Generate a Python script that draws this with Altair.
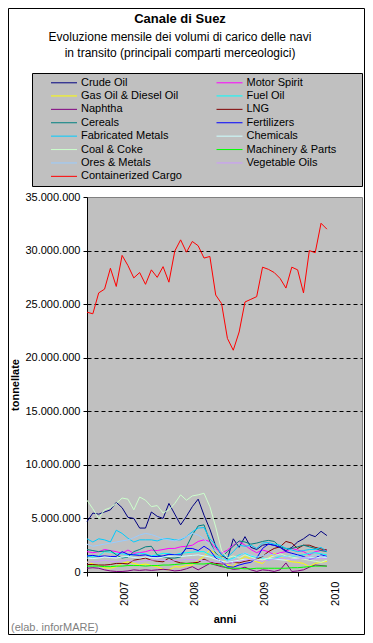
import altair as alt
import pandas as pd

FONT = "Liberation Sans"

# month index 0 = Jan 2007 ... 41 = Jun 2010 (axis spans 48 months, 2007-2010)
YEARS = [2007, 2008, 2009, 2010]
YEAR_TICKS = [0, 12, 24, 36]
LABEL_SHIFT = 6.4  # year label sits inside its year band

SERIES = [
    "Crude Oil", "Motor Spirit",
    "Gas Oil & Diesel Oil", "Fuel Oil",
    "Naphtha", "LNG",
    "Cereals", "Fertilizers",
    "Fabricated Metals", "Chemicals",
    "Coal & Coke", "Machinery & Parts",
    "Ores & Metals", "Vegetable Oils",
    "Containerized Cargo",
]
COLORS = [
    "#000080", "#FF00FF",
    "#FFFF00", "#00FFFF",
    "#800080", "#800000",
    "#008080", "#0000FF",
    "#00CCFF", "#CCFFFF",
    "#CCFFCC", "#00FF00",
    "#99CCFF", "#CC99FF",
    "#FF0000",
]

# values in millions of tonnes
crude_oil = [4.7, 5.5, 5.4, 5.6, 5.8, 6.5, 6.0, 5.1, 5.0, 4.1, 4.1, 5.6, 5.2, 5.0, 6.4, 5.4, 4.4, 5.2, 6.1, 6.8, 5.3,
             4.0, 2.4, 1.6, 1.2, 3.1, 2.3, 3.3, 2.3, 2.1, 2.5, 2.6, 2.5, 2.3, 2.0, 2.3, 2.8, 3.1, 3.5, 3.3, 3.8, 3.4]
motor_spirit = [1.9, 1.8, 1.9, 2.1, 2.0, 1.9, 1.75, 2.05, 1.75, 1.8, 1.9, 2.05, 2.0, 2.1, 2.2, 2.2, 2.35, 2.4, 2.5, 2.85,
                3.0, 2.85, 2.2, 1.75, 2.05, 2.5, 2.85, 2.5, 2.1, 1.8, 2.05, 1.9, 1.6, 1.8, 1.9, 2.2, 2.05, 1.9, 1.6, 1.9,
                2.0, 2.05]
gas_oil = [0.95, 0.75, 0.6, 0.4, 0.35, 0.5, 0.8, 0.95, 0.8, 0.65, 0.75, 0.6, 0.5, 0.25, 0.2, 0.5, 0.45, 0.6, 0.65, 1.1,
           1.45, 2.05, 1.75, 1.45, 0.65, 0.5, 1.1, 1.45, 1.2, 0.95, 0.8, 1.3, 1.75, 1.45, 1.1, 0.95, 0.9, 0.8, 0.5, 0.8,
           0.9, 1.0]
fuel_oil = [1.5, 1.4, 1.5, 1.9, 1.85, 1.7, 1.7, 1.6, 1.6, 1.75, 1.7, 1.5, 1.6, 1.75, 1.7, 1.6, 1.75, 1.8, 1.85, 1.9, 1.9,
            1.6, 1.45, 1.3, 1.1, 1.3, 1.6, 1.75, 1.45, 1.4, 1.3, 1.1, 1.25, 1.45, 1.5, 1.45, 1.55, 1.6, 1.75, 1.8, 1.7,
            1.6]
naphtha = [0.35, 0.4, 0.35, 0.2, 0.1, 0.05, 0.05, 0.1, 0.2, 0.15, 0.2, 0.15, 0.2, 0.25, 0.2, 0.1, 0.15, 0.3, 0.5, 0.2,
           0.5, 0.8, 0.65, 0.5, 0.4, 0.25, 0.3, 0.45, 0.2, 0.05, 0.2, 0.15, 0.05, 0.2, 0.85, 0.05, 0.1, 0.2, 0.45, 0.65,
           0.6, 0.55]
lng = [0.7, 0.7, 0.65, 0.65, 0.7, 0.8, 0.8, 0.75, 1.1, 1.2, 1.3, 1.1, 1.0, 0.95, 1.3, 1.0, 0.85, 0.8, 0.85, 0.9, 1.2,
       0.95, 0.8, 0.75, 0.8, 0.9, 0.85, 1.0, 1.1, 1.2, 1.45, 1.9, 2.2, 2.35, 2.85, 2.7, 2.2, 2.5, 2.5, 2.3, 2.15, 2.05]
cereals = [2.1, 2.0, 1.9, 1.95, 2.0, 1.6, 1.3, 1.4, 1.9, 2.1, 2.35, 2.4, 1.6, 1.4, 1.3, 1.3, 1.4, 2.35, 3.45, 4.3, 4.4,
           2.85, 1.75, 1.4, 1.9, 2.4, 2.9, 2.8, 2.6, 2.7, 2.85, 2.95, 2.85, 2.35, 2.2, 2.2, 2.35, 2.5, 2.35, 2.2, 2.0,
           1.9]
fertilizers = [1.5, 1.55, 1.45, 1.5, 1.45, 1.45, 1.9, 1.65, 1.6, 1.55, 1.6, 1.45, 1.45, 1.5, 1.65, 1.6, 1.6, 2.2, 2.2,
               2.0, 2.4, 2.05, 1.3, 0.95, 0.5, 0.45, 0.65, 0.8, 0.9, 1.3, 2.2, 2.6, 2.5, 2.3, 1.9, 1.75, 1.6, 1.45, 1.2,
               1.3, 1.6, 1.45]
fabricated_metals = [3.1, 2.8, 3.1, 3.0, 2.8, 3.9, 3.6, 3.15, 2.8, 3.0, 3.0, 3.0, 2.9, 3.1, 3.1, 3.0, 3.0, 3.3, 3.75,
                     4.1, 4.15, 3.1, 2.5, 1.6, 1.4, 1.9, 2.5, 2.4, 2.5, 2.2, 2.7, 2.75, 2.6, 2.5, 2.2, 2.05, 1.9, 2.0,
                     2.1, 2.1, 2.3, 1.9]
chemicals = [1.3, 1.25, 1.3, 1.4, 1.35, 1.3, 1.4, 1.45, 1.35, 1.3, 1.4, 1.35, 1.3, 1.4, 1.45, 1.5, 1.45, 1.5, 1.55, 1.6,
             1.5, 1.4, 1.2, 1.0, 0.9, 1.0, 1.1, 1.2, 1.15, 1.1, 1.2, 1.25, 1.2, 1.15, 1.1, 1.2, 1.25, 1.3, 1.35, 1.3,
             1.4, 1.35]
coal_coke = [6.7, 5.9, 5.0, 5.8, 6.0, 6.4, 6.9, 6.8, 5.8, 7.0, 6.7, 6.1, 6.2, 5.5, 5.8, 6.4, 7.2, 6.7, 7.1, 7.2, 7.35,
             6.1, 4.2, 2.0, 1.3, 1.5, 1.3, 1.6, 1.4, 1.2, 1.1, 1.3, 1.5, 1.7, 1.5, 1.4, 1.3, 1.2, 1.1, 1.0, 0.9, 1.1]
machinery = [0.55, 0.55, 0.55, 0.5, 0.5, 0.55, 0.55, 0.6, 0.6, 0.6, 0.55, 0.6, 0.6, 0.65, 0.65, 0.7, 0.75, 0.8, 0.8,
             0.75, 0.75, 0.8, 0.7, 0.6, 0.35, 0.35, 0.35, 0.3, 0.3, 0.35, 0.35, 0.35, 0.35, 0.35, 0.35, 0.4, 0.4, 0.45,
             0.5, 0.55, 0.55, 0.55]
ores_metals = [2.6, 2.4, 2.5, 2.6, 2.7, 2.8, 2.9, 3.0, 3.2, 3.45, 3.6, 3.5, 3.3, 3.1, 3.0, 2.9, 3.1, 3.3, 3.6, 3.45,
               3.1, 2.5, 1.9, 1.3, 1.0, 1.2, 1.5, 1.8, 1.6, 1.4, 1.5, 1.7, 1.6, 1.5, 1.4, 1.6, 1.5, 1.3, 1.4, 1.6, 1.5,
               1.4]
vegetable_oils = [0.9, 0.95, 1.0, 1.1, 1.0, 0.95, 1.05, 1.1, 1.0, 0.95, 1.05, 1.1, 1.15, 1.1, 1.0, 1.05, 1.1, 1.2, 1.15,
                  1.1, 1.05, 1.0, 0.9, 0.85, 0.8, 0.9, 1.0, 1.1, 1.2, 1.1, 1.0, 1.1, 1.2, 1.3, 1.25, 1.15, 1.2, 1.3,
                  1.25, 1.2, 1.3, 1.25]
containerized = [24.25, 24.1, 26.05, 26.4, 28.35, 26.65, 29.55, 28.6, 27.45, 27.95, 26.85, 28.2, 27.5, 28.5, 27.05,
                 29.95, 31.0, 29.85, 30.85, 30.45, 29.3, 29.45, 25.85, 25.05, 21.8, 20.7, 22.4, 25.2, 25.45, 25.7,
                 28.45, 28.25, 27.95, 27.4, 26.5, 28.45, 28.2, 26.05, 30.0, 29.8, 32.55, 32.0]

VALUES = {
    "Crude Oil": crude_oil, "Motor Spirit": motor_spirit,
    "Gas Oil & Diesel Oil": gas_oil, "Fuel Oil": fuel_oil,
    "Naphtha": naphtha, "LNG": lng,
    "Cereals": cereals, "Fertilizers": fertilizers,
    "Fabricated Metals": fabricated_metals, "Chemicals": chemicals,
    "Coal & Coke": coal_coke, "Machinery & Parts": machinery,
    "Ores & Metals": ores_metals, "Vegetable Oils": vegetable_oils,
    "Containerized Cargo": containerized,
}

TITLE = "Canale di Suez"
SUBTITLE = ["Evoluzione mensile dei volumi di carico delle navi",
            "in transito (principali comparti merceologici)"]
Y_TITLE = "tonnellate"
X_TITLE = "anni"
SOURCE = "(elab. inforMARE)"

rows = []
for name in SERIES:
    for i, v in enumerate(VALUES[name]):
        rows.append({"idx": i, "series": name, "value": v * 1_000_000})
df = pd.DataFrame(rows)

one = alt.Data(values=[{}])

x_values = sorted(YEAR_TICKS + [t + LABEL_SHIFT for t in YEAR_TICKS])
x_axis = alt.Axis(
    values=x_values,
    labelExpr="datum.value % 12 == 0 ? '' : '' + (2007 + floor(datum.value / 12))",
    tickOpacity={"condition": {"test": "datum.value % 12 == 0", "value": 1}, "value": 0},
    labelAngle=270, labelPadding=5,
    tickSize=4, grid=False,
    title=X_TITLE, titleFontWeight="bold", titleFontSize=11,
    titleY=50, titleBaseline="alphabetic",
)
y_axis = alt.Axis(
    values=list(range(0, 35_000_001, 5_000_000)),
    labelExpr="replace(format(datum.value, ','), regexp(',', 'g'), '.')",
    tickSize=4, labelPadding=3,
    grid=True, gridColor="black", gridDash=[4, 3], gridWidth=1,
    gridOpacity={"condition": {"test": "datum.value >= 35000000 || datum.value <= 0", "value": 0}, "value": 1},
    title=Y_TITLE, titleFontWeight="bold", titleFontSize=11,
    titleX=-72, titleBaseline="middle",
)

legend = alt.Legend(
    orient="none", legendX=-36.5, legendY=-120.2, direction="horizontal",
    columns=2, title=None, padding=0,
    symbolType="stroke", symbolSize=676, symbolStrokeWidth=1, symbolOffset=0,
    clipHeight=11.5, rowPadding=0.4, columnPadding=33.5,
    labelFont=FONT, labelFontSize=11, labelColor="black", labelOffset=3.5,
    labelLimit=0,
)

lines = alt.Chart(df).mark_line(strokeWidth=1).encode(
    x=alt.X("idx:Q", scale=alt.Scale(domain=[0, 47], nice=False, zero=False), axis=x_axis),
    y=alt.Y("value:Q", scale=alt.Scale(domain=[0, 35_000_000], nice=False), axis=y_axis),
    color=alt.Color("series:N", scale=alt.Scale(domain=SERIES, range=COLORS), sort=SERIES, legend=legend),
)

legend_box = alt.Chart(one).mark_rect(fill="#C0C0C0", stroke="black", strokeWidth=1).encode(
    x=alt.value(-54.5), x2=alt.value(275.5), y=alt.value(-123.5), y2=alt.value(-10.5)
)
frame = alt.Chart(one).mark_rect(fillOpacity=0, stroke="black", strokeWidth=1).encode(
    x=alt.value(-78.5), x2=alt.value(277.5), y=alt.value(-188.5), y2=alt.value(437.5)
)

title_t = alt.Chart(one).mark_text(font=FONT, fontSize=13, fontWeight="bold", align="center",
                                   baseline="alphabetic", color="black").encode(
    x=alt.value(93), y=alt.value(-174.3), text=alt.value(TITLE))
sub1 = alt.Chart(one).mark_text(font=FONT, fontSize=12, align="center",
                                baseline="alphabetic", color="black").encode(
    x=alt.value(93), y=alt.value(-156.3), text=alt.value(SUBTITLE[0]))
sub2 = alt.Chart(one).mark_text(font=FONT, fontSize=12, align="center",
                                baseline="alphabetic", color="black").encode(
    x=alt.value(93), y=alt.value(-139.7), text=alt.value(SUBTITLE[1]))
source = alt.Chart(one).mark_text(font=FONT, fontSize=11, align="left",
                                  baseline="alphabetic", color="#808080").encode(
    x=alt.value(-76), y=alt.value(434), text=alt.value(SOURCE))

chart = alt.layer(legend_box, lines, title_t, sub1, sub2, source, frame).properties(
    width=275, height=375,
    autosize=alt.AutoSizeParams(type="none"),
    padding={"left": 79, "top": 189, "right": 3, "bottom": 63},
    background="white",
).configure_view(
    fill="#C0C0C0", stroke="#808080", strokeWidth=1
).configure_axis(
    labelFont=FONT, labelFontSize=11, labelColor="black",
    titleFont=FONT, titleColor="black",
    domainColor="black", tickColor="black", domainWidth=1, tickWidth=1,
)

chart.save("out.html", embed_options={"renderer": "svg", "actions": False})
